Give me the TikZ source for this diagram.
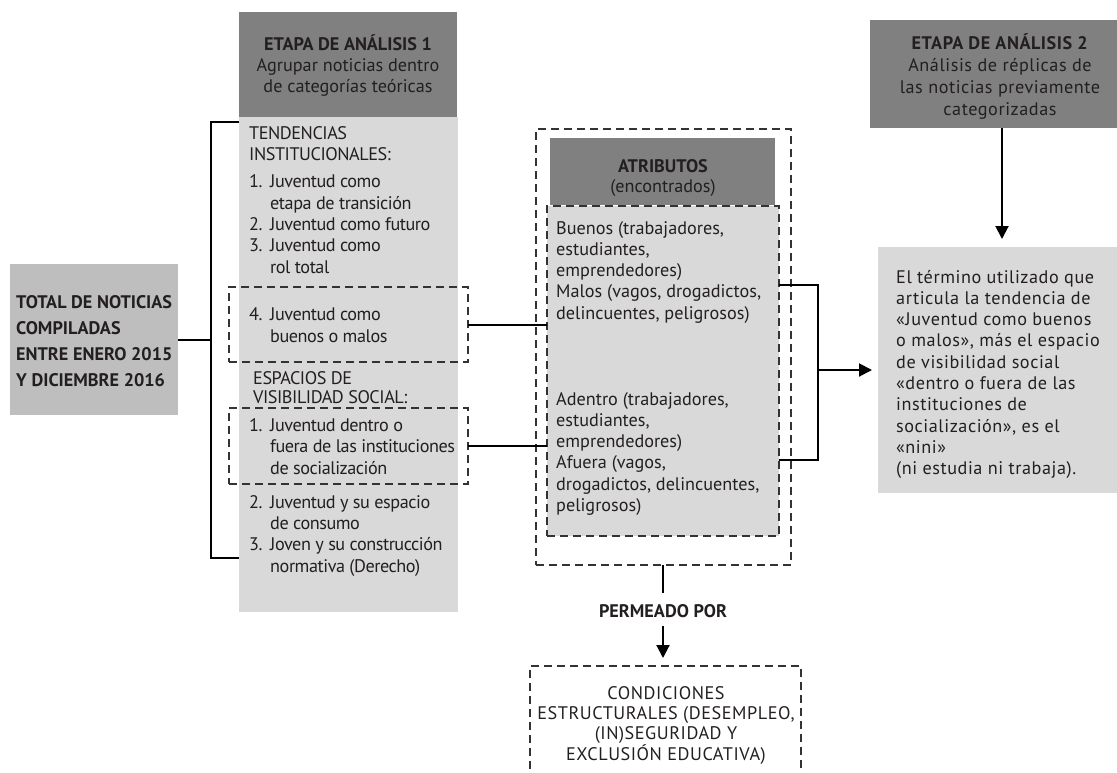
\documentclass[tikz,border=0pt]{standalone}
\usepackage{fontspec}
\setmainfont{PT Sans}
\newfontfamily\tightfont[LetterSpace=-2.5]{PT Sans}
\newfontfamily\widefont[LetterSpace=3]{PT Sans}
\newfontfamily\capsfont[LetterSpace=3]{PT Sans}
\usetikzlibrary{arrows.meta}
\definecolor{hdr}{HTML}{808080}
\definecolor{lite}{HTML}{D9D9D9}
\definecolor{midg}{HTML}{BEBEBE}
\definecolor{dashc}{HTML}{333333}
\definecolor{ink}{HTML}{231F20}
\newcommand\mynum[1]{\makebox[21pt][l]{#1}}
\newcommand\myind{\hspace*{21pt}}
\tikzset{
  panel/.style={inner sep=0pt, outer sep=0pt, anchor=north west},
  dbox/.style={panel, draw=dashc, line width=2pt, dash pattern=on 8pt off 5pt},
  txt/.style={inner sep=0pt, anchor=base west, align=left, text=ink,
              font=\fontsize{18.2}{21.3}\selectfont},
  ltxt/.style={txt, font=\fontsize{18.2}{21.3}\tightfont},
  ctxt/.style={txt, anchor=base, align=center},
  conn/.style={line width=2pt, draw=black},
  arr/.style={conn, -{Triangle[length=13pt,width=13pt]}},
}
\begin{document}
\begin{tikzpicture}[x=1pt,y=-1pt]
\useasboundingbox (0,0) rectangle (1117,772);
% boxes
\node[panel, fill=hdr, minimum width=218, minimum height=105] (e1h) at (239,12) {};
\node[panel, fill=lite, minimum width=219, minimum height=495] (e1b) at (239,117) {};
\node[panel, fill=midg, minimum width=168, minimum height=151] (tot) at (10,264) {};
\node[dbox, minimum width=239, minimum height=75] (d4) at (229,287) {};
\node[dbox, minimum width=239, minimum height=76] (d1) at (229,408) {};
\node[dbox, minimum width=255, minimum height=436] (atr) at (536,129) {};
\node[panel, fill=hdr, minimum width=225, minimum height=67] (atrh) at (550,138) {};
\node[dbox, fill=lite, minimum width=232, minimum height=330] (atrb) at (547,206) {};
\node[panel, fill=hdr, minimum width=250, minimum height=108] (e2h) at (870,20) {};
\node[panel, fill=lite, minimum width=242, minimum height=246] (nini) at (878,247) {};
\node[dbox, minimum width=271, minimum height=130] (cond) at (530,666) {};
% texts (anchor = baseline of the last line)
\node[txt, font=\fontsize{18.2}{25.7}\selectfont\bfseries] (totT) at (16,386)
  {TOTAL DE NOTICIAS\\COMPILADAS\\ENTRE ENERO 2015\\Y DICIEMBRE 2016};
\node[ctxt, font=\fontsize{18.2}{21}\selectfont] (e1T) at (348,92)
  {\textbf{ETAPA DE ANÁLISIS 1}\\Agrupar noticias dentro\\de categorías teóricas};
\node[ltxt] (tenT) at (249,273)
  {TENDENCIAS\\INSTITUCIONALES:\\[5.7pt]\mynum{1.}Juventud como\\\myind etapa de transición\\\mynum{2.}Juventud como futuro\\\mynum{3.}Juventud como\\\myind rol total};
\node[ltxt] (d4T) at (249,342) {\mynum{4.}Juventud como\\\myind buenos o malos};
\node[ltxt, font=\fontsize{18.2}{19.5}\tightfont] (espT) at (253,403.5) {ESPACIOS DE\\VISIBILIDAD SOCIAL:};
\node[ltxt] (d1T) at (249,474) {\mynum{1.}Juventud dentro o\\\myind fuera de las instituciones\\\myind de socialización};
\node[ltxt] (restT) at (249,572) {\mynum{2.}Juventud y su espacio\\\myind de consumo\\\mynum{3.}Joven y su construcción\\\myind normativa (Derecho)};
\node[ctxt, font=\fontsize{18.2}{20}\selectfont] (atrT) at (663,192) {\textbf{ATRIBUTOS}\\(encontrados)};
\node[txt] (bmT) at (556,319.2) {Buenos (trabajadores,\\estudiantes,\\emprendedores)\\Malos (vagos, drogadictos,\\delincuentes, peligrosos)};
\node[txt] (afT) at (556,511.5) {Adentro (trabajadores,\\estudiantes,\\emprendedores)\\Afuera (vagos,\\drogadictos, delincuentes,\\peligrosos)};
\node[ctxt, font=\fontsize{18.2}{21.7}\widefont] (e2T) at (1000,115)
  {\textbf{ETAPA DE ANÁLISIS 2}\\Análisis de réplicas de\\las noticias previamente\\categorizadas};
\node[txt, font=\fontsize{18.2}{21.3}\widefont] (niniT) at (896,474.7) {El término utilizado que\\articula la tendencia de\\«Juventud como buenos\\o malos», más el espacio\\de visibilidad social\\«dentro o fuera de las\\instituciones de\\socialización», es el\\«nini»\\(ni estudia ni trabaja).};
\node[ctxt, font=\fontsize{18.2}{21}\selectfont\bfseries] (permT) at (663,617) {PERMEADO POR};
\node[ctxt, font=\fontsize{18.2}{20.3}\capsfont] (condT) at (666,760)
  {CONDICIONES\\ESTRUCTURALES (DESEMPLEO,\\(IN)SEGURIDAD Y\\EXCLUSIÓN EDUCATIVA)};
% connectors
\coordinate (bt) at (239,122);
\coordinate (bb) at (239,558);
\coordinate (bx) at (211,339.5);
\draw[conn] (tot.east) -- (bx);
\draw[conn] (bt) -| (bx) |- (bb);
\draw[conn] (d4.east) -- (d4.east -| atrb.west);
\draw[conn] (d1.east) -- (d1.east -| atrb.west);
\coordinate (rt) at (779,285);
\coordinate (rb) at (779,460);
\coordinate (rx) at (818,370);
\draw[conn] (rt) -| (rx) |- (rb);
\draw[arr, shorten >=6pt] (rx) -- (nini.west |- rx);
\coordinate (a2) at (1002,0);
\draw[arr, shorten >=8pt] (e2h.south -| a2) -- (nini.north -| a2);
\coordinate (p1) at (663,593);
\coordinate (p2) at (663,626);
\draw[conn] (atr.south -| p1) -- (p1);
\draw[arr, shorten >=8pt] (p2) -- (cond.north -| p2);
\end{tikzpicture}
\end{document}
